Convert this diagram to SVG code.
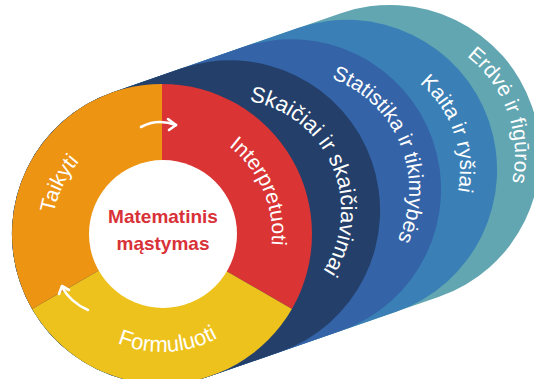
<svg xmlns="http://www.w3.org/2000/svg" width="534" height="379" viewBox="0 0 534 379">
<style>
.lbl{font-family:"Liberation Sans",Arial,sans-serif;font-size:21px;fill:#ffffff}
.big{font-size:22px}
.ctr{font-family:"Liberation Sans",Arial,sans-serif;font-size:19px;font-weight:bold;fill:#D93138}
.arr{fill:none;stroke:#ffffff;stroke-width:2.6;stroke-linecap:round;stroke-linejoin:round}
</style>
<defs>
<path id="pInt" d="M145.7,125.2 A110,110 0 0 1 230.5,320.1"/>
<path id="pTai" d="M89.8,317 A110,110 0 0 1 183,126"/>
<path id="pFor" d="M49.8,270.5 A118,118 0 0 0 277.4,258.5"/>
<path id="pSka" d="M213.6,100.6 A111,111 0 0 1 299.1,297.3"/>
<path id="pSta" d="M276,72.3 A118,118 0 0 1 362.5,283.2"/>
<path id="pKai" d="M337.9,57.3 A113,113 0 0 1 411.2,262.9"/>
<path id="pErd" d="M379.5,30.4 A125,125 0 0 1 461.3,257.6"/>
</defs>
<g id="erdve">
<path fill="#62A6B2" d="M112.9,92.2 L340.9,13.2 A150,150 0 0 1 531.8,105.9 A150,150 0 0 1 439.1,296.8 L211.1,375.8 A150,150 0 0 1 20.2,283.1 A150,150 0 0 1 112.9,92.2 Z"/>
<text class="lbl"><textPath href="#pErd" startOffset="50%" text-anchor="middle">Erdvė ir figūros</textPath></text>
</g>
<g id="kaita">
<path fill="#3A80B6" d="M112.9,92.2 L297.9,28.1 A150,150 0 0 1 488.8,120.8 A150,150 0 0 1 396.1,311.7 L211.1,375.8 A150,150 0 0 1 20.2,283.1 A150,150 0 0 1 112.9,92.2 Z"/>
<text class="lbl"><textPath href="#pKai" startOffset="50%" text-anchor="middle">Kaita ir ryšiai</textPath></text>
</g>
<g id="statistika">
<path fill="#3463A8" d="M112.9,92.2 L241.9,47.5 A150,150 0 0 1 432.8,140.2 A150,150 0 0 1 340.1,331.1 L211.1,375.8 A150,150 0 0 1 20.2,283.1 A150,150 0 0 1 112.9,92.2 Z"/>
<text class="lbl"><textPath href="#pSta" startOffset="50%" text-anchor="middle">Statistika ir tikimybės</textPath></text>
</g>
<g id="skaiciai">
<path fill="#24406A" d="M112.9,92.2 L180.9,68.6 A150,150 0 0 1 371.8,161.3 A150,150 0 0 1 279.1,352.2 L211.1,375.8 A150,150 0 0 1 20.2,283.1 A150,150 0 0 1 112.9,92.2 Z"/>
<text class="lbl big"><textPath href="#pSka" startOffset="50%" text-anchor="middle">Skaičiai ir skaičiavimai</textPath></text>
</g>
<g id="interpretuoti">
<path fill="#DA3434" d="M162,234 L162,84 A150,150 0 0 1 291.9,309 Z"/>
<text class="lbl"><textPath href="#pInt" startOffset="50%" text-anchor="middle">Interpretuoti</textPath></text>
</g>
<g id="formuluoti">
<path fill="#EEC21C" d="M162,234 L291.9,309 A150,150 0 0 1 32.1,309 Z"/>
<text class="lbl big"><textPath href="#pFor" startOffset="50%" text-anchor="middle">Formuluoti</textPath></text>
</g>
<g id="taikyti">
<path fill="#EE9413" d="M162,234 L32.1,309 A150,150 0 0 1 162,84 Z"/>
<text class="lbl"><textPath href="#pTai" startOffset="50%" text-anchor="middle">Taikyti</textPath></text>
</g>
<g id="matematinis">
<circle cx="163" cy="234" r="74" fill="#ffffff"/>
<text class="ctr" x="163" y="223" text-anchor="middle">Matematinis</text>
<text class="ctr" x="163" y="250" text-anchor="middle">mąstymas</text>
</g>
<g id="connectors">
<path class="arr" d="M141,127 Q157,118 176,125"/>
<path class="arr" d="M168,119 L176,125 L169,130"/>
<path class="arr" d="M88,310 Q70,302 62,287"/>
<path class="arr" d="M59,294 L62,286 L69,290"/>
</g>
</svg>
